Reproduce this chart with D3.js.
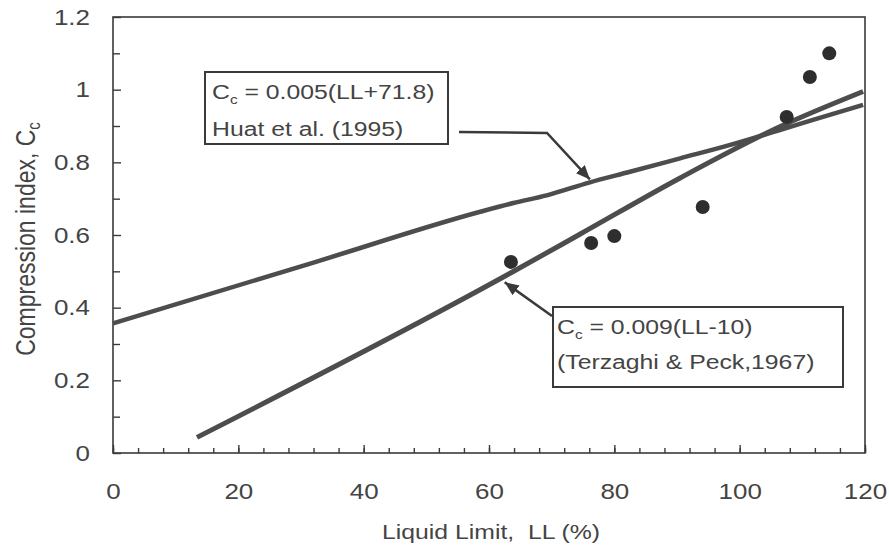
<!DOCTYPE html>
<html>
<head>
<meta charset="utf-8">
<script src="https://cdn.jsdelivr.net/npm/d3@7"></script>
<style>
    body { margin: 0; background: #fff; }
    svg { display: block; font-family: 'Liberation Sans', Arial, sans-serif; }
</style>
</head>
<body>
<svg id="chart" width="889" height="548"></svg>
<script>
// measured points
const llPoints = [63.5, 76.3, 80.0, 94.1, 107.5, 111.2, 114.3];
const ccPoints = [0.526, 0.578, 0.597, 0.677, 0.925, 1.035, 1.10];

// Huat et al. (1995) line, as drawn
const huatLL = [0, 31.6, 58.6, 63.9, 69.2, 76.1, 82.5, 90.5, 98.5, 106.4, 111.7, 119.7];
const huatCc = [0.357, 0.522, 0.664, 0.688, 0.709, 0.745, 0.774, 0.811, 0.848, 0.889, 0.917, 0.958];

// Terzaghi & Peck (1967) line, as drawn
const terzLL = [13.4, 63.3, 74.5, 90.5, 106.4, 119.7];
const terzCc = [0.043, 0.494, 0.602, 0.757, 0.898, 0.995];

const xTicks = [0, 20, 40, 60, 80, 100, 120];
const xMinor = d3.range(0, 121, 4);
const yTicks = [0, 0.2, 0.4, 0.6, 0.8, 1, 1.2];
const yMinor = [0.1, 0.3, 0.5, 0.7, 0.9, 1.1];

const huatLabel = ['0.005(LL+71.8)', 'Huat et al. (1995)'];
const terzLabel = ['0.009(LL-10)', '(Terzaghi & Peck,1967)'];

const ink = '#444';
const stretch = 1.18; // the scan is wider than tall

const svg = d3.select('#chart');
const plotL = 113, plotR = 865, plotT = 17, plotB = 453;

const x = d3.scaleLinear().domain([0, 120]).range([plotL, plotR]);
const y = d3.scaleLinear().domain([0, 1.2]).range([plotB, plotT]);

// frame
svg.append('rect')
    .attr('x', plotL).attr('y', plotT)
    .attr('width', plotR - plotL).attr('height', plotB - plotT)
    .attr('fill', 'none').attr('stroke', '#3a3a3a').attr('stroke-width', 1.6);

// axes
svg.append('g').attr('transform', `translate(0,${plotB})`)
    .call(d3.axisBottom(x).tickValues(xTicks).tickSizeInner(-8).tickSizeOuter(0)
        .tickPadding(30).tickFormat(d => String(d)));
svg.append('g').attr('transform', `translate(0,${plotB})`)
    .call(d3.axisBottom(x).tickValues(xMinor).tickSizeInner(-5).tickSizeOuter(0).tickFormat(''));
svg.append('g').attr('transform', `translate(${plotL},0)`)
    .call(d3.axisLeft(y).tickValues(yTicks).tickSizeInner(-8).tickSizeOuter(0)
        .tickPadding(19.5).tickFormat(d => String(d)));
svg.append('g').attr('transform', `translate(${plotL},0)`)
    .call(d3.axisLeft(y).tickValues(yMinor).tickSizeInner(-7).tickSizeOuter(0).tickFormat(''));

svg.selectAll('.domain').remove();
svg.selectAll('.tick line').attr('stroke', '#3a3a3a').attr('stroke-width', 1.4);
svg.selectAll('.tick text')
    .attr('fill', ink).attr('font-size', 22)
    .attr('font-family', "'Liberation Sans', Arial, sans-serif")
    .attr('transform', `scale(${stretch},1)`);

// lines
const line = d3.line().curve(d3.curveMonotoneX).x(d => x(d[0])).y(d => y(d[1]));
svg.append('path')
    .datum(huatLL.map((v, i) => [v, huatCc[i]]))
    .attr('d', line).attr('fill', 'none')
    .attr('stroke', '#4d4d4d').attr('stroke-width', 4.5);
svg.append('path')
    .datum(terzLL.map((v, i) => [v, terzCc[i]]))
    .attr('d', line).attr('fill', 'none')
    .attr('stroke', '#4d4d4d').attr('stroke-width', 5);

// points
svg.selectAll('circle.pt')
    .data(llPoints.map((v, i) => [v, ccPoints[i]]))
    .enter().append('circle')
    .attr('class', 'pt')
    .attr('cx', d => x(d[0])).attr('cy', d => y(d[1]))
    .attr('r', 7).attr('fill', '#2e2e2e');

// arrows
svg.append('defs').append('marker')
    .attr('id', 'head').attr('viewBox', '0 0 14 12')
    .attr('refX', 14).attr('refY', 6)
    .attr('markerWidth', 14).attr('markerHeight', 12)
    .attr('markerUnits', 'userSpaceOnUse').attr('orient', 'auto')
    .append('path').attr('d', 'M0,0L14,6L0,12Z').attr('fill', '#3a3a3a');

svg.append('path')
    .attr('d', `M459,132L547,133L${x(76.1)},${y(0.753)}`)
    .attr('fill', 'none').attr('stroke', '#3a3a3a').attr('stroke-width', 2.5)
    .attr('marker-end', 'url(#head)');
svg.append('path')
    .attr('d', `M552,316L${x(62.5)},${y(0.47)}`)
    .attr('fill', 'none').attr('stroke', '#3a3a3a').attr('stroke-width', 2.5)
    .attr('marker-end', 'url(#head)');

// label boxes
function labelBox(bx, by, bw, bh, lines, tx, base1, base2) {
    const g = svg.append('g');
    g.append('rect').attr('x', bx).attr('y', by).attr('width', bw).attr('height', bh)
        .attr('fill', '#fff').attr('stroke', '#3a3a3a').attr('stroke-width', 2);
    const t1 = g.append('text')
        .attr('transform', `translate(${tx},${base1}) scale(${stretch},1)`)
        .attr('font-size', 21).attr('fill', ink);
    t1.append('tspan').text('C');
    t1.append('tspan').attr('font-size', 13).attr('dy', 5).text('c');
    t1.append('tspan').attr('dy', -5).text(' = ' + lines[0]);
    g.append('text')
        .attr('transform', `translate(${tx},${base2}) scale(${stretch},1)`)
        .attr('font-size', 21).attr('fill', ink).text(lines[1]);
}
labelBox(205, 72, 243, 72, huatLabel, 212, 99, 136);
labelBox(553, 307, 290, 80, terzLabel, 557, 334, 369);

// axis titles
svg.append('text')
    .attr('transform', `translate(491,539) scale(${stretch},1)`)
    .attr('text-anchor', 'middle').attr('font-size', 21).attr('fill', ink)
    .text('Liquid Limit,\u00a0 LL (%)');

const yl = svg.append('text')
    .attr('transform', `translate(35,239) scale(${stretch},1) rotate(-90)`)
    .attr('text-anchor', 'middle').attr('font-size', 23).attr('fill', ink);
yl.append('tspan').text('Compression index, C');
yl.append('tspan').attr('font-size', 15).attr('dy', 4).text('c');
</script>
</body>
</html>
